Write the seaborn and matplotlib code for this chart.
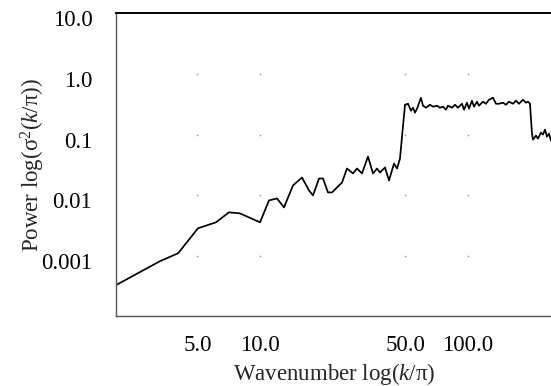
import numpy as np
import pandas as pd
import matplotlib
matplotlib.use("Agg")
import matplotlib.pyplot as plt
import matplotlib.transforms as mtransforms
from matplotlib.ticker import FixedLocator, FixedFormatter, NullLocator
import seaborn as sns

# Power spectrum: wavenumber k/pi and power sigma^2(k/pi)
wavenumber = [
    2.03, 3.30, 4.04, 5.03, 6.14, 7.09, 8.01, 10.0, 11.05, 12.07,
    13.04, 14.41, 15.92, 17.2, 17.98, 19.22, 20.09, 21.23, 22.19, 24.79,
    26.2, 28.0, 29.27, 30.94, 33.05, 34.94, 36.52, 37.75, 39.9, 41.7,
    44.1, 45.6, 47.1, 49.8, 51.5, 53.2, 54.4, 55.6, 56.9, 59.4,
    60.8, 62.8, 65.7, 67.9, 71.0, 73.3, 75.8, 78.4, 80.1, 83.8,
    86.6, 89.5, 93.6, 95.7, 98.9, 101.1, 104.5, 106.9, 110.5, 112.9,
    118.1, 122.0, 126.2, 131.9, 136.4, 140.9, 147.3, 152.3, 157.4, 164.6,
    170.1, 175.9, 183.8, 190.0, 194.3, 198.7, 203.1, 205.4, 212.3, 217.0,
    224.4, 229.4, 234.6, 239.8, 245.2, 250.6,
]
power = [
    3.35e-4, 8.28e-4, 1.12e-3, 2.88e-3, 3.61e-3, 5.27e-3, 5.07e-3, 3.61e-3, 8.28e-3, 8.93e-3,
    6.36e-3, 0.0146, 0.0197, 0.0121, 0.0100, 0.0190, 0.0190, 0.0112, 0.0112, 0.0163,
    0.0277, 0.0230, 0.0277, 0.0230, 0.0436, 0.0230, 0.0277, 0.0238, 0.0288, 0.0176,
    0.0335, 0.0277, 0.0404, 0.310, 0.322, 0.247, 0.277, 0.230, 0.267, 0.404,
    0.299, 0.277, 0.310, 0.288, 0.299, 0.277, 0.288, 0.257, 0.299, 0.277,
    0.310, 0.277, 0.322, 0.257, 0.335, 0.267, 0.361, 0.288, 0.348, 0.299,
    0.348, 0.322, 0.375, 0.404, 0.322, 0.322, 0.335, 0.310, 0.348, 0.322,
    0.361, 0.322, 0.375, 0.335, 0.348, 0.322, 0.104, 0.0828, 0.0964, 0.0860,
    0.108, 0.100, 0.121, 0.0927, 0.104, 0.0798,
]

x_ticks = [5.0, 10.0, 50.0, 100.0]
x_tick_labels = ["5.0", "10.0", "50.0", "100.0"]
y_ticks = [0.001, 0.01, 0.1, 1.0, 10.0]
y_tick_labels = ["0.001", "0.01", "0.1", "1.0", "10.0"]

sns.set_style("white")
plt.rcParams["font.family"] = ["Liberation Serif", "DejaVu Serif"]
plt.rcParams["mathtext.fontset"] = "custom"
plt.rcParams["mathtext.rm"] = "Liberation Serif"
plt.rcParams["mathtext.it"] = "Liberation Serif:italic"

df = pd.DataFrame({"k": wavenumber, "power": power})

fig = plt.figure(figsize=(5.51, 3.86), dpi=100)
ax = fig.add_axes([0.2105, 0.1813, 0.7929, 0.7850])

sns.lineplot(data=df, x="k", y="power", sort=False, estimator=None,
             color="black", linewidth=1.25, ax=ax)

ax.set_xscale("log")
ax.set_yscale("log")
ax.set_xlim(2.03, 256)
ax.set_ylim(1.04e-4, 10)

# faint dots where the grid lines would cross
gx, gy = np.meshgrid(x_ticks, y_ticks[:-1])
ax.scatter(gx.ravel(), gy.ravel(), s=1.5, color="#9a9a9a", linewidths=0, zorder=1)

ax.xaxis.set_major_locator(FixedLocator(x_ticks))
ax.xaxis.set_major_formatter(FixedFormatter(x_tick_labels))
ax.yaxis.set_major_locator(FixedLocator(y_ticks))
ax.yaxis.set_major_formatter(FixedFormatter(y_tick_labels))
ax.xaxis.set_minor_locator(NullLocator())
ax.yaxis.set_minor_locator(NullLocator())

ax.tick_params(axis="both", which="major", direction="in", length=2,
               width=0.6, color="#888888", labelsize=16.5, labelcolor="black")
ax.tick_params(axis="y", pad=17)
ax.tick_params(axis="x", pad=14)

# y tick labels sit slightly below their tick positions
shift = mtransforms.ScaledTranslation(0, -5 / 100, fig.dpi_scale_trans)
for lab in ax.get_yticklabels():
    lab.set_transform(lab.get_transform() + shift)

ax.set_xlabel(r"Wavenumber log($k$/π)", fontsize=16.5, labelpad=3)
ax.set_ylabel(r"Power log(σ$^2$($k$/π))", fontsize=16.5, labelpad=-4)

for side in ["left", "bottom"]:
    ax.spines[side].set_color("#555555")
    ax.spines[side].set_linewidth(1.0)
ax.spines["top"].set_color("black")
ax.spines["top"].set_linewidth(1.4)
ax.spines["right"].set_visible(False)

fig.savefig("out.png", dpi=100)
